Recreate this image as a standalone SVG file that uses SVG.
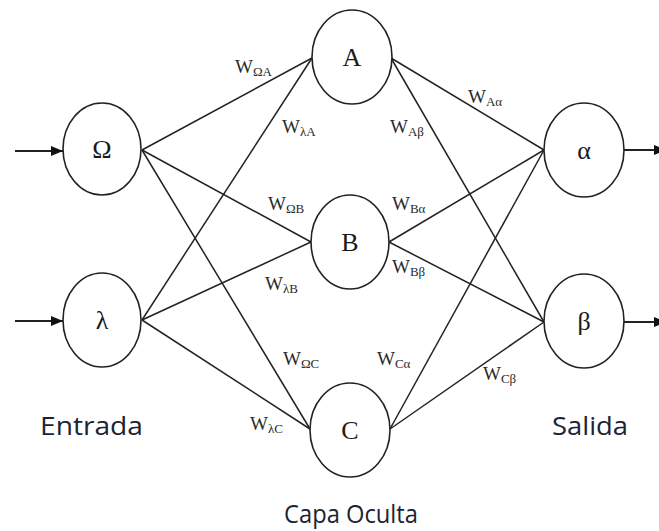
<svg xmlns="http://www.w3.org/2000/svg" width="659" height="531" viewBox="0 0 659 531">
  <style>
    .node ellipse { fill: #ffffff; stroke: #222222; stroke-width: 1.6; }
    .node text { font-family: "Liberation Serif", "DejaVu Serif", serif; font-size: 26px; fill: #1a1a1a; text-anchor: middle; }
    .edges line { stroke: #222222; stroke-width: 1.5; }
    .io line { stroke: #222222; stroke-width: 1.8; }
    .w { font-family: "Liberation Serif", "DejaVu Serif", serif; font-size: 19px; fill: #2a2a2a; }
    .w tspan.s { font-size: 13px; }
    .cap { font-family: "Open Sans", "Liberation Sans", sans-serif; font-size: 26px; fill: #1c2433; }
  </style>
  <defs>
    <marker id="arrow" viewBox="0 0 12 10" refX="12" refY="5" markerWidth="12" markerHeight="10" markerUnits="userSpaceOnUse" orient="auto">
      <path d="M0,0 L12,5 L0,10 Z" fill="#111111"/>
    </marker>
  </defs>

  <rect width="659" height="531" fill="#ffffff"/>

  <!-- weighted connections between layers -->
  <g id="connectors" class="edges">
    <line x1="142" y1="150" x2="312" y2="58"/>
    <line x1="142" y1="150" x2="311" y2="242"/>
    <line x1="142" y1="150" x2="310" y2="429"/>
    <line x1="142" y1="320" x2="312" y2="58"/>
    <line x1="142" y1="320" x2="311" y2="242"/>
    <line x1="142" y1="320" x2="310" y2="429"/>
    <line x1="391" y1="58" x2="544" y2="150"/>
    <line x1="391" y1="58" x2="544" y2="322"/>
    <line x1="389" y1="242" x2="544" y2="150"/>
    <line x1="389" y1="242" x2="544" y2="322"/>
    <line x1="390" y1="429" x2="544" y2="150"/>
    <line x1="390" y1="429" x2="544" y2="322"/>
  </g>

  <!-- input and output arrows -->
  <g id="io-arrows" class="io">
    <line x1="15" y1="151" x2="63" y2="151" marker-end="url(#arrow)"/>
    <line x1="15" y1="321" x2="63" y2="321" marker-end="url(#arrow)"/>
    <line x1="623" y1="150" x2="666" y2="150" marker-end="url(#arrow)"/>
    <line x1="623" y1="322" x2="666" y2="322" marker-end="url(#arrow)"/>
  </g>

  <!-- input layer -->
  <g id="node-omega" class="node">
    <ellipse cx="102" cy="149" rx="39" ry="46"/>
    <text x="102" y="158">Ω</text>
  </g>
  <g id="node-lambda" class="node">
    <ellipse cx="102" cy="320" rx="39" ry="47"/>
    <text x="102" y="329">λ</text>
  </g>

  <!-- hidden layer -->
  <g id="node-A" class="node">
    <ellipse cx="352" cy="57" rx="40" ry="47"/>
    <text x="352" y="66">A</text>
  </g>
  <g id="node-B" class="node">
    <ellipse cx="350" cy="242" rx="39" ry="47"/>
    <text x="350" y="251">B</text>
  </g>
  <g id="node-C" class="node">
    <ellipse cx="350" cy="430" rx="40" ry="47"/>
    <text x="350" y="439">C</text>
  </g>

  <!-- output layer -->
  <g id="node-alpha" class="node">
    <ellipse cx="584" cy="150" rx="40" ry="47"/>
    <text x="584" y="159">α</text>
  </g>
  <g id="node-beta" class="node">
    <ellipse cx="584" cy="321" rx="40" ry="47"/>
    <text x="584" y="330">β</text>
  </g>

  <!-- weight labels -->
  <g id="weights">
    <text class="w" x="235" y="73">W<tspan class="s" dy="3">ΩA</tspan></text>
    <text class="w" x="282" y="133">W<tspan class="s" dy="3">λA</tspan></text>
    <text class="w" x="390" y="133">W<tspan class="s" dy="3">Aβ</tspan></text>
    <text class="w" x="468" y="103">W<tspan class="s" dy="3">Aα</tspan></text>
    <text class="w" x="268" y="210">W<tspan class="s" dy="3">ΩB</tspan></text>
    <text class="w" x="392" y="210">W<tspan class="s" dy="3">Bα</tspan></text>
    <text class="w" x="392" y="273">W<tspan class="s" dy="3">Bβ</tspan></text>
    <text class="w" x="265" y="290">W<tspan class="s" dy="3">λB</tspan></text>
    <text class="w" x="283" y="365">W<tspan class="s" dy="3">ΩC</tspan></text>
    <text class="w" x="377" y="365">W<tspan class="s" dy="3">Cα</tspan></text>
    <text class="w" x="250" y="430">W<tspan class="s" dy="3">λC</tspan></text>
    <text class="w" x="483" y="380">W<tspan class="s" dy="3">Cβ</tspan></text>
  </g>

  <!-- layer captions -->
  <g id="captions">
    <text class="cap" x="40" y="435" textLength="103" lengthAdjust="spacingAndGlyphs">Entrada</text>
    <text class="cap" x="552" y="435" textLength="76" lengthAdjust="spacingAndGlyphs">Salida</text>
    <text class="cap" x="351" y="523" text-anchor="middle" textLength="134" lengthAdjust="spacingAndGlyphs">Capa Oculta</text>
  </g>
</svg>
